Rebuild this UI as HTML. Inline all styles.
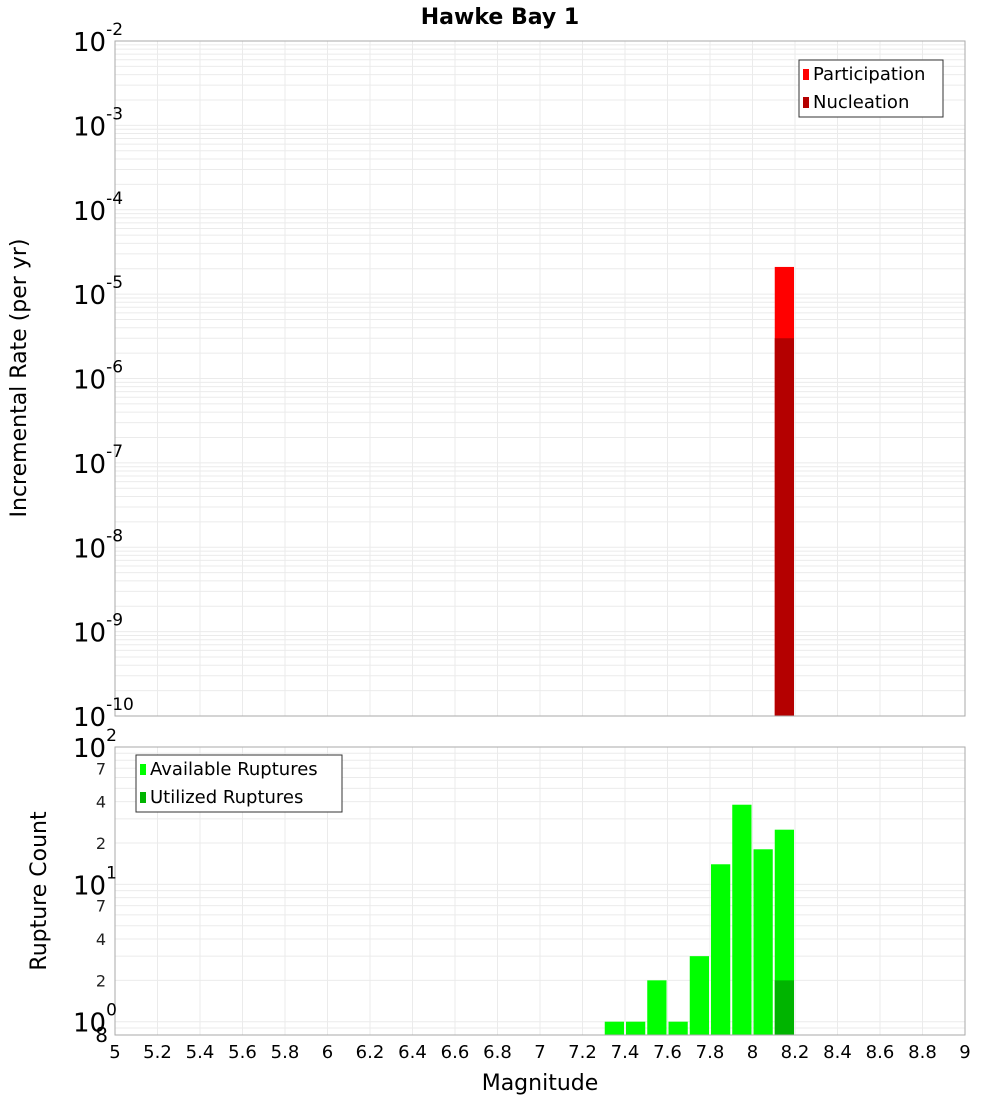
<!DOCTYPE html>
<html><head><meta charset="utf-8"><style>
body{margin:0;background:#fff;width:1000px;height:1100px;overflow:hidden}
svg{display:block;font-family:"DejaVu Sans","Liberation Sans",sans-serif}
</style></head><body>
<svg id="c" width="1000" height="1100" xmlns="http://www.w3.org/2000/svg">
<text x="500" y="24" text-anchor="middle" font-size="22" font-weight="bold">Hawke Bay 1</text>
<g id="topPanel"></g>
<g id="botPanel"></g>
<text transform="translate(26,378) rotate(-90)" text-anchor="middle" font-size="22">Incremental Rate (per yr)</text>
<text transform="translate(46,891) rotate(-90)" text-anchor="middle" font-size="22">Rupture Count</text>
<text x="540" y="1090" text-anchor="middle" font-size="22">Magnitude</text>
</svg>
<script>
const xTicks=["5","5.2","5.4","5.6","5.8","6","6.2","6.4","6.6","6.8","7","7.2","7.4","7.6","7.8","8","8.2","8.4","8.6","8.8","9"];
const rateMags=[8.15];
const participation=[2.1e-5];
const nucleation=[3.0e-6];
const countMags=[7.35,7.45,7.55,7.65,7.75,7.85,7.95,8.05,8.15];
const available=[1,1,2,1,3,14,38,18,25];
const utilized=[0,0,0,0,0,0,0,0,2];
const topExps=[-2,-3,-4,-5,-6,-7,-8,-9,-10];
const botExps=[2,1,0];
const botMinor=["7","4","2"];

const NS="http://www.w3.org/2000/svg";
const L=115,R=965;
const X=m=>L+(m-5)/4*(R-L);
function el(p,t,a){const e=document.createElementNS(NS,t);for(const k in a)e.setAttribute(k,a[k]);p.appendChild(e);return e;}
const topG=document.getElementById('topPanel'),botG=document.getElementById('botPanel');
const T0=41,T1=716,Yt=v=>T0+(-2-Math.log10(v))/8*(T1-T0);
const B0=747,B1=1035,lmin=Math.log10(0.8),Yb=v=>B1-(Math.log10(v)-lmin)/(2-lmin)*(B1-B0);
function grid(g,y0,y1,yf,lo,hi){
  for(let e=lo;e<hi;e++)for(let k=1;k<10;k++){const y=yf(k*Math.pow(10,e));if(y<y0-0.5||y>y1+0.5)continue;
    const ln=el(g,'line',{x1:L,x2:R,y1:y,y2:y,stroke:'#ebebeb','stroke-width':1});
    
    }
  for(let i=0;i<xTicks.length;i++){const x=X(5+i*0.2);
    const ln=el(g,'line',{x1:x,x2:x,y1:y0,y2:y1,stroke:'#ebebeb','stroke-width':1});
    
    }
}
grid(topG,T0,T1,Yt,-10,-2);
grid(botG,B0,B1,Yb,-1,2);
rateMags.forEach((m,i)=>{
  const x=X(m-0.05)+1,w=X(m+0.05)-X(m-0.05)-2;
  let r=el(topG,'rect',{x:x,y:Yt(participation[i]),width:w,height:T1-Yt(participation[i]),fill:'#ff0000'});
  
  
  r=el(topG,'rect',{x:x,y:Yt(nucleation[i]),width:w,height:T1-Yt(nucleation[i]),fill:'#b40000'});
  
  
});
countMags.forEach((m,i)=>{
  const x=X(m-0.05)+1,w=X(m+0.05)-X(m-0.05)-2;
  let r=el(botG,'rect',{x:x,y:Yb(available[i]),width:w,height:B1-Yb(available[i]),fill:'#00ff00'});
  
  
  if(utilized[i]>0){r=el(botG,'rect',{x:x,y:Yb(utilized[i]),width:w,height:B1-Yb(utilized[i]),fill:'#00b400'});
  
  }
});
let fr=el(topG,'rect',{x:L,y:T0,width:R-L,height:T1-T0,fill:'none',stroke:'#aaa'});


fr=el(botG,'rect',{x:L,y:B0,width:R-L,height:B1-B0,fill:'none',stroke:'#aaa'});


function pow(g,x,y,e,nm){const t=el(g,'text',{x:x,y:y,'font-size':26,'text-anchor':'start'});
  
  
  t.textContent='10';const s=el(t,'tspan',{dy:-16,'font-size':17});s.textContent=String(e);}
topExps.forEach(e=>{pow(topG,73,Yt(Math.pow(10,e))+10,e,'top-y-tick-label');});
botExps.forEach(e=>{pow(botG,73,Yb(Math.pow(10,e))+10,e,'bottom-y-tick-label');});
[0,1].forEach(d=>botMinor.forEach(v=>{const y=Yb(Number(v)*Math.pow(10,d));
  const t=el(botG,'text',{x:106,y:y+6,'font-size':16,'text-anchor':'end',fill:'#222'});
  
  
  t.textContent=v;}));
let t8=el(botG,'text',{x:108,y:1042,'font-size':20,'text-anchor':'end'});


t8.textContent='8';
xTicks.forEach((s,i)=>{const t=el(botG,'text',{x:X(5+i*0.2),y:1058,'font-size':18,'text-anchor':'middle'});
  
  
  t.textContent=s;});
function legend(g,x,y,w,items,nm){
  const lg=el(g,'g',{});
  
  
  el(lg,'rect',{x:x,y:y,width:w,height:57,fill:'#fff',stroke:'#333'});
  items.forEach((it,i)=>{el(lg,'rect',{x:x+4,y:y+9+i*28,width:6,height:11,fill:it[1]});
    const t=el(lg,'text',{x:x+14,y:y+20+i*28,'font-size':18});
    
    
    t.textContent=it[0];});
}
legend(topG,799,60,144,[["Participation","#ff0000"],["Nucleation","#b40000"]],'top-legend');
legend(botG,136,755,206,[["Available Ruptures","#00ff00"],["Utilized Ruptures","#00b400"]],'bottom-legend');
</script>
</body></html>
